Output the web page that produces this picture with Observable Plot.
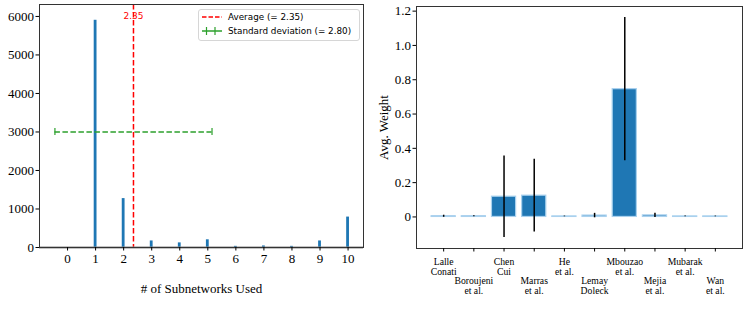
<!DOCTYPE html>
<html><head><meta charset="utf-8">
<script src="https://cdn.jsdelivr.net/npm/d3@7"></script>
<script src="https://cdn.jsdelivr.net/npm/@observablehq/plot@0.6"></script>
<style>
body{margin:0;background:#fff;}
#wrap{position:relative;width:747px;height:311px;overflow:hidden;background:#fff;}
#left,#right{position:absolute;top:0;}
#left{left:0;} #right{left:370px;}
.legend{position:absolute;left:198px;top:9px;width:160px;height:30px;border:1px solid #d6d6d6;border-radius:3px;background:rgba(255,255,255,0.85);font-family:"DejaVu Sans";font-size:8.8px;color:#000;}
.legend .row{position:absolute;left:0;height:12px;width:160px;}
.legend svg{position:absolute;left:2px;top:0;}
.legend span{position:absolute;left:29px;top:0;line-height:12px;white-space:nowrap;}
</style></head><body>
<div id="wrap"><div id="left"></div><div id="right"></div>
<div class="legend">
  <div class="row" style="top:1px"><svg width="22" height="12"><line x1="1" x2="21" y1="6" y2="6" stroke="red" stroke-width="1.5" stroke-dasharray="4.5,2"/></svg><span id="lg1"></span></div>
  <div class="row" style="top:15px"><svg width="22" height="12"><line x1="1" x2="21" y1="6" y2="6" stroke="#2ca02c" stroke-width="1.5"/><line x1="5.5" x2="5.5" y1="2" y2="10" stroke="#2ca02c" stroke-width="1.2"/><line x1="14" x2="14" y1="2" y2="10" stroke="#2ca02c" stroke-width="1.2"/></svg><span id="lg2"></span></div>
</div>
</div>
<script>
// ---- Left chart data ----
const subnetworks = [1, 2, 3, 4, 5, 6, 7, 8, 9, 10];
const counts = [5900, 1270, 170, 120, 200, 30, 40, 30, 170, 790];
const average = 2.35;
const stdDev = 2.80;
const leftXTicks = [0, 1, 2, 3, 4, 5, 6, 7, 8, 9, 10];
const leftYTicks = [0, 1000, 2000, 3000, 4000, 5000, 6000];

// ---- Right chart data ----
const authors = ["Lalle\nConati", "Boroujeni\net al.", "Chen\nCui", "Marras\net al.", "He\net al.", "Lemay\nDoleck", "Mbouzao\net al.", "Mejia\net al.", "Mubarak\net al.", "Wan\net al."];
const meanWeights = [0.004, 0.004, 0.118, 0.124, 0.003, 0.008, 0.745, 0.009, 0.003, 0.003];
const stdWeights = [0.006, 0.003, 0.238, 0.212, 0.002, 0.013, 0.418, 0.012, 0.002, 0.002];
const rightYTicks = [0, 0.2, 0.4, 0.6, 0.8, 1.0, 1.2];

const serif = "Liberation Serif";

document.getElementById("lg1").textContent = `Average (= ${average.toFixed(2)})`;
document.getElementById("lg2").textContent = `Standard deviation (= ${stdDev.toFixed(2)})`;

const hist = subnetworks.map((n, i) => ({n, c: counts[i]}));
const left = Plot.plot({
  width: 370, height: 311,
  marginLeft: 39, marginRight: 7, marginTop: 4, marginBottom: 64,
  x: {domain: [-1.0, 10.55]},
  y: {domain: [0, 6310]},
  style: {fontFamily: serif, background: "transparent", color: "#000"},
  marks: [
    Plot.rectY(hist, {x1: d => d.n - 0.05, x2: d => d.n + 0.05, y1: 0, y2: "c", fill: "#1f77b4"}),
    Plot.ruleX([average], {x: d => d, stroke: "red", strokeWidth: 1.5, strokeDasharray: "5.5,2.5"}),
    Plot.text([average], {x: d => d, frameAnchor: "top", dy: 8, text: d => d.toFixed(2), fill: "red", fontFamily: "DejaVu Sans", fontSize: 9}),
    Plot.ruleY([3000], {y: d => d, x1: average - stdDev, x2: average + stdDev, stroke: "#2ca02c", strokeWidth: 1.5, strokeDasharray: "5.5,2.5"}),
    Plot.ruleX([average - stdDev, average + stdDev], {x: d => d, y1: 2910, y2: 3090, stroke: "#2ca02c", strokeWidth: 1.2}),
    Plot.ruleY([0], {stroke: "#888", strokeWidth: 2}),
    Plot.frame({stroke: "#333"}),
    Plot.axisX({ticks: leftXTicks, tickFormat: d => String(d), tickSize: 3.5, tickPadding: 3, fontSize: 13, fontFamily: serif, label: "# of Subnetworks Used", labelAnchor: "center", labelOffset: 45, labelArrow: "none"}),
    Plot.axisY({ticks: leftYTicks, tickFormat: d => String(d), tickSize: 3.5, tickPadding: 2, fontSize: 13, fontFamily: serif, label: null})
  ]
});
document.getElementById("left").appendChild(left);

const weights = authors.map((a, i) => ({i, a, m: meanWeights[i], s: stdWeights[i]}));
const idx = authors.map((a, i) => i);
const right = Plot.plot({
  width: 377, height: 311,
  marginLeft: 46, marginRight: 5, marginTop: 6, marginBottom: 63,
  x: {domain: [-0.9, 9.9]},
  y: {domain: [-0.184, 1.227]},
  style: {fontFamily: serif, background: "transparent", color: "#000"},
  marks: [
    Plot.rectY(weights, {x1: d => d.i - 0.4, x2: d => d.i + 0.4, y1: 0, y2: "m", fill: "#1f77b4", stroke: "#a9d1ee", strokeWidth: 1.2}),
    Plot.ruleX(weights, {x: "i", y1: d => d.m - d.s, y2: d => d.m + d.s, stroke: "#000", strokeWidth: 1.5}),
    Plot.frame({stroke: "#333"}),
    Plot.axisX({ticks: idx.filter(i => i % 2 === 0), tickFormat: i => authors[i], tickSize: 3.5, tickPadding: 6.5, fontSize: 9.7, fontFamily: serif, label: null}),
    Plot.axisX({ticks: idx.filter(i => i % 2 === 1), tickFormat: i => authors[i], tickSize: 3.5, tickPadding: 25.5, fontSize: 9.7, fontFamily: serif, label: null}),
    Plot.axisY({ticks: rightYTicks, tickFormat: d => d === 0 ? "0" : d.toFixed(1), tickSize: 3.5, tickPadding: 2, fontSize: 13, fontFamily: serif, label: "Avg. Weight", labelAnchor: "center", labelOffset: 38, labelArrow: "none"})
  ]
});
document.getElementById("right").appendChild(right);
</script>
</body></html>
